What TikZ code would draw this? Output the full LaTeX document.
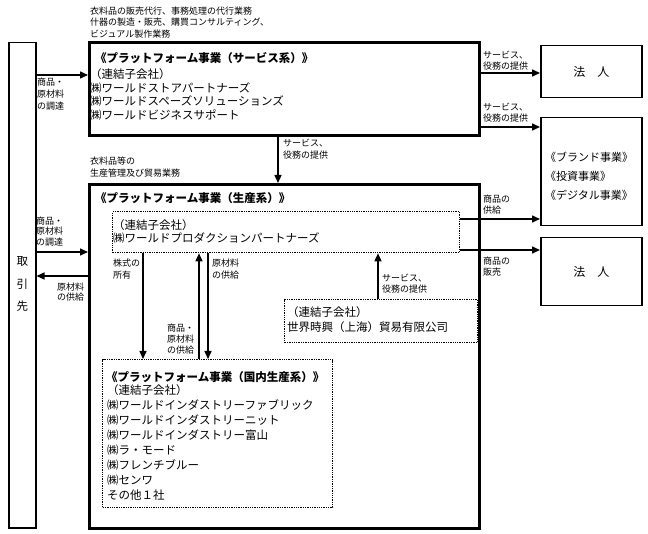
\documentclass[tikz,border=0pt]{standalone}
\usepackage{fontspec}
\setmainfont{Noto Sans CJK JP}
\usetikzlibrary{arrows.meta}

\begin{document}
\begin{tikzpicture}[x=1pt, y=-1pt,
    bigbox/.style={draw, line width=2.6pt, inner sep=0pt, anchor=north west},
    box/.style={draw, line width=1.5pt, inner sep=0pt, anchor=north west},
    dotbox/.style={draw, line width=1.3pt, dash pattern=on 1.3pt off 1pt, inner sep=0pt, anchor=north west},
    arr/.style={line width=1.5pt, -{Triangle[length=8pt,width=7pt]}},
    lbl/.style={font=\fontsize{9}{11.5}\selectfont, align=left, inner sep=0pt, anchor=north west},
    txt/.style={font=\fontsize{11.5}{14.8}\selectfont, align=left, inner sep=0pt, anchor=north west}]
    \useasboundingbox (0,0) rectangle (648,534);

    % Boxes
    \node[box, minimum width=27pt, minimum height=485pt] (tk) at (8,42) {};
    \node[bigbox, minimum width=390pt, minimum height=93pt] (svc) at (88,41) {};
    \node[bigbox, minimum width=390pt, minimum height=344pt] (prod) at (88,183) {};
    \node[box, minimum width=101pt, minimum height=52pt] (corpa) at (540,45) {};
    \node[box, minimum width=101pt, minimum height=108pt] (brand) at (540,117) {};
    \node[box, minimum width=101pt, minimum height=68pt] (corpb) at (540,237) {};
    \node[dotbox, minimum width=347pt, minimum height=41pt] (pp) at (112,211) {};
    \node[dotbox, minimum width=193pt, minimum height=43pt] (sh) at (284,299) {};
    \node[dotbox, minimum width=230pt, minimum height=148pt] (dom) at (102,359) {};

    % Box texts
    \node[txt, anchor=center, align=center, font=\fontsize{11.5}{22.5}\selectfont] (tktext) at (tk.center |- 0,284.5) {取\\引\\先};
    \node[txt, font=\fontsize{11.5}{14.8}\bfseries] (svctitle) at (95,52.5) {《プラットフォーム事業（サービス系）》};
    \node[txt, font=\fontsize{11.5}{13.7}\selectfont] (svcbody) at (90,68.3) {（連結子会社）\\㈱ワールドストアパートナーズ\\㈱ワールドスペーズソリューションズ\\㈱ワールドビジネスサポート};
    \node[txt, font=\fontsize{11.5}{14.8}\bfseries] (prodtitle) at (95,192.5) {《プラットフォーム事業（生産系）》};
    \node[txt, font=\fontsize{11.5}{13}\selectfont] (pptext) at (113,219.3) {（連結子会社）\\㈱ワールドプロダクションパートナーズ};
    \node[txt, font=\fontsize{11.5}{15}\selectfont] (shtext) at (287,306.3) {（連結子会社）\\世界時興（上海）貿易有限公司};
    \node[txt, font=\fontsize{11.5}{14.8}\bfseries] (domtitle) at (106,371.3) {《プラットフォーム事業（国内生産系）》};
    \node[txt, font=\fontsize{11.5}{15}\selectfont] (domtext) at (107,384.3) {（連結子会社）\\㈱ワールドインダストリーファブリック\\㈱ワールドインダストリーニット\\㈱ワールドインダストリー富山\\㈱ラ・モード\\㈱フレンチブルー\\㈱センワ\\その他１社};
    \node[txt, font=\fontsize{11}{19}\selectfont] (brandtext) at (545,151.5) {《ブランド事業》\\《投資事業》\\《デジタル事業》};
    \node[font=\fontsize{12}{14}\selectfont] (corpatext) at (corpa.center) {法　人};
    \node[font=\fontsize{12}{14}\selectfont] (corpbtext) at (corpb.center) {法　人};

    % Arrows
    \draw[arr] (tk.east |- 0,75) -- (svc.west |- 0,75);
    \draw[arr] (svc.east |- 0,73) -- (corpa.west |- 0,73);
    \draw[arr] (svc.east |- 0,127) -- (brand.west |- 0,127);
    \draw[arr] (svc.south -| 278,0) -- (prod.north -| 278,0);
    \draw[arr] (tk.east |- 0,252) -- (prod.west |- 0,252);
    \draw[arr] (prod.west |- 0,276) -- (tk.east |- 0,276);
    \draw[arr] (pp.east |- 0,219) -- (brand.west |- 0,219);
    \draw[arr] (pp.east |- 0,250) -- (corpb.west |- 0,250);
    \draw[arr] (pp.south -| 143,0) -- (dom.north -| 143,0);
    \draw[arr] (dom.north -| 199,0) -- (pp.south -| 199,0);
    \draw[arr] (pp.south -| 208,0) -- (dom.north -| 208,0);
    \draw[arr] (sh.north -| 378,0) -- (pp.south -| 378,0);

    % Arrow labels
    \node[lbl] (svcnote) at (90,6.5) {衣料品の販売代行、事務処理の代行業務\\什器の製造・販売、購買コンサルティング、\\ビジュアル製作業務};
    \node[lbl, font=\fontsize{9}{12}\selectfont] (buya) at (37,77.5) {商品・\\原材料\\の調達};
    \node[lbl, font=\fontsize{9}{11}\selectfont] (srva) at (483,50.5) {サービス、\\役務の提供};
    \node[lbl, font=\fontsize{9}{11}\selectfont] (srvb) at (483,102.5) {サービス、\\役務の提供};
    \node[lbl, font=\fontsize{9}{12}\selectfont] (srvc) at (283,138.5) {サービス、\\役務の提供};
    \node[lbl, font=\fontsize{9}{12}\selectfont] (prodnote) at (90,156.5) {衣料品等の\\生産管理及び貿易業務};
    \node[lbl, font=\fontsize{9}{10.5}\selectfont] (buyb) at (36,216.5) {商品・\\原材料\\の調達};
    \node[lbl, font=\fontsize{9}{10.5}\selectfont] (supa) at (57,282.5) {原材料\\の供給};
    \node[lbl, font=\fontsize{9}{12}\selectfont] (share) at (113,258.5) {株式の\\所有};
    \node[lbl, font=\fontsize{9}{12}\selectfont] (supb) at (212,258.5) {原材料\\の供給};
    \node[lbl, font=\fontsize{9}{11}\selectfont] (supc) at (167,323.5) {商品・\\原材料\\の供給};
    \node[lbl, font=\fontsize{9}{11}\selectfont] (supd) at (483,194.5) {商品の\\供給};
    \node[lbl, font=\fontsize{9}{11}\selectfont] (sale) at (483,256.5) {商品の\\販売};
    \node[lbl, font=\fontsize{9}{11}\selectfont] (srvd) at (382,273.5) {サービス、\\役務の提供};
\end{tikzpicture}
\end{document}
